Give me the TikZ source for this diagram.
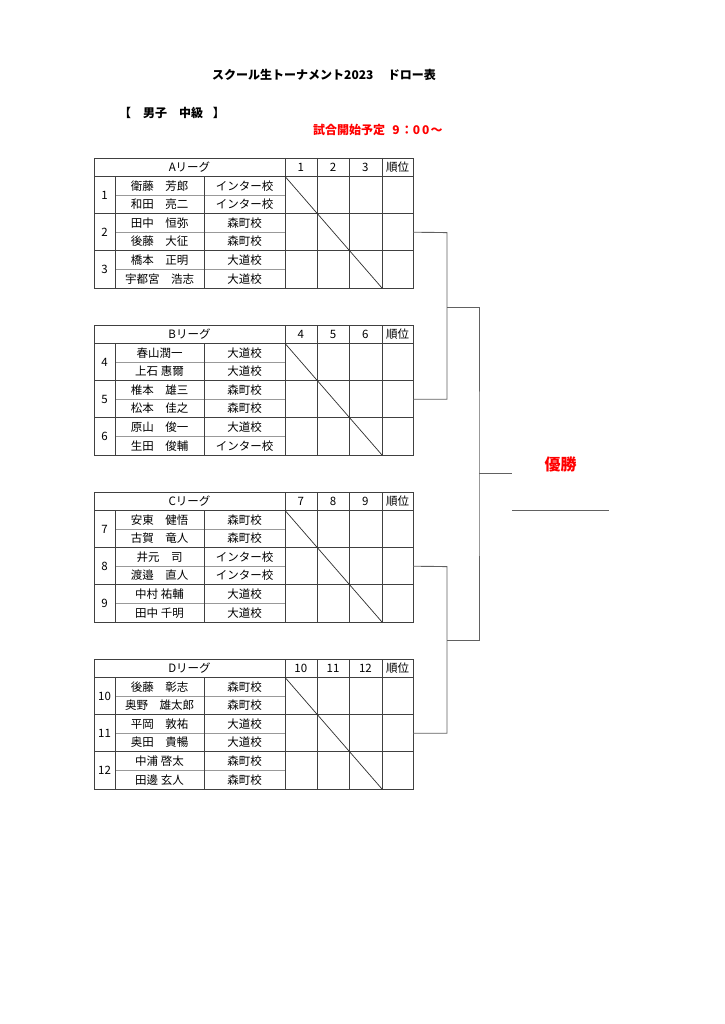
\documentclass[tikz,border=0pt]{standalone}
\usepackage{fontspec}
\setmainfont{Noto Sans CJK JP}
\tikzset{
  gridline/.style={draw=black!75, line width=0.8pt},
  memline/.style={draw=black!40, line width=0.6pt},
  diagline/.style={draw=black!82, line width=0.7pt},
  cell/.style={font=\fontsize{11.5}{13}\selectfont, inner sep=0pt},
  bracket/.style={draw=black!62, line width=0.9pt},
  heading/.style={font=\bfseries\fontsize{12}{14}\selectfont, inner sep=0pt},
}
\newcommand\league[6]{%
\begin{scope}[shift={(0,#2)}]
  \draw[gridline] (94,0) rectangle (413,130);
  \draw[gridline] (94,18.4) -- (413,18.4);
  \foreach \y in {55.6,92.8} \draw[gridline] (94,\y) -- (413,\y);
  \foreach \y in {37,74.2,111.4} \draw[memline] (115,\y) -- (285,\y);
  \foreach \x in {115,204} \draw[gridline] (\x,18.4) -- (\x,130);
  \foreach \x in {285,317,349,382} \draw[gridline] (\x,0) -- (\x,130);
  \draw[diagline] (285,18.4) -- (382,130);
  \node[cell] (#1-title) at (189.5,9.2) {#3};
  \foreach \n [count=\k] in {#4} \node[cell] (#1-h\k) at ({268.5+32.3*\k},9.2) {\n};
  \node[cell] (#1-rank) at (397.5,9.2) {順位};
  \foreach \n [count=\k] in {#4} \node[cell] (#1-g\k) at (104.5,{18.4+37.2*(\k-0.5)}) {\n};
  \foreach \nm [count=\k] in {#5} \node[cell] (#1-p\k) at (159.5,{18.4+18.6*(\k-0.5)}) {\nm};
  \foreach \sc [count=\k] in {#6} \node[cell] (#1-s\k) at (244.5,{18.4+18.6*(\k-0.5)}) {\sc};
  \coordinate (#1-out) at (413,74.2);
\end{scope}}
\begin{document}
\begin{tikzpicture}[x=1pt,y=-1pt]
\useasboundingbox[fill=white] (0,0) rectangle (724,1024);

\node[heading, anchor=west] (title) at (212,75) {スクール生トーナメント2023\hspace{1.2em}ドロー表};
\node[heading, anchor=west] (class) at (119,113) {【　男子　中級\hspace{0.8em}】};
\node[heading, anchor=west, text=red] (start) at (313,130)
  {試合開始予定\hspace{0.6em}9\hspace{0.1em}：0\hspace{0.15em}0\hspace{0.1em}～};

\league{A}{158}{Aリーグ}{1,2,3}
  {衛藤　芳郎,和田　亮二,田中　恒弥,後藤　大征,橋本　正明,宇都宮　浩志}
  {インター校,インター校,森町校,森町校,大道校,大道校}
\league{B}{325}{Bリーグ}{4,5,6}
  {春山潤一,上石 惠爾,椎本　雄三,松本　佳之,原山　俊一,生田　俊輔}
  {大道校,大道校,森町校,森町校,大道校,インター校}
\league{C}{492}{Cリーグ}{7,8,9}
  {安東　健悟,古賀　竜人,井元　司,渡邉　直人,中村 祐輔,田中 千明}
  {森町校,森町校,インター校,インター校,大道校,大道校}
\league{D}{659}{Dリーグ}{10,11,12}
  {後藤　彰志,奥野　雄太郎,平岡　敦祐,奥田　貴暢,中浦 啓太,田邊 玄人}
  {森町校,森町校,大道校,大道校,森町校,森町校}

\coordinate (ABv) at (447,232.6);
\coordinate (CDv) at (447,566.6);
\coordinate (AB) at (447,307.3);
\coordinate (CD) at (447,640.3);
\coordinate (F) at (479,473.5);
\coordinate (Fend) at (512,473.5);
\coordinate (champL) at (512,510.7);
\coordinate (champR) at (609,510.7);

\draw[bracket] (A-out) -- (ABv) |- (B-out);
\draw[bracket] (C-out) -- (CDv) |- (D-out);
\draw[bracket] (AB) -| (F) |- (CD);
\draw[bracket] (F) -- (Fend);
\draw[bracket] (champL) -- (champR);
\node[font=\bfseries\fontsize{16}{18}\selectfont, text=red, inner sep=0pt] (champ) at (560.5,464.5) {優勝};
\end{tikzpicture}
\end{document}
